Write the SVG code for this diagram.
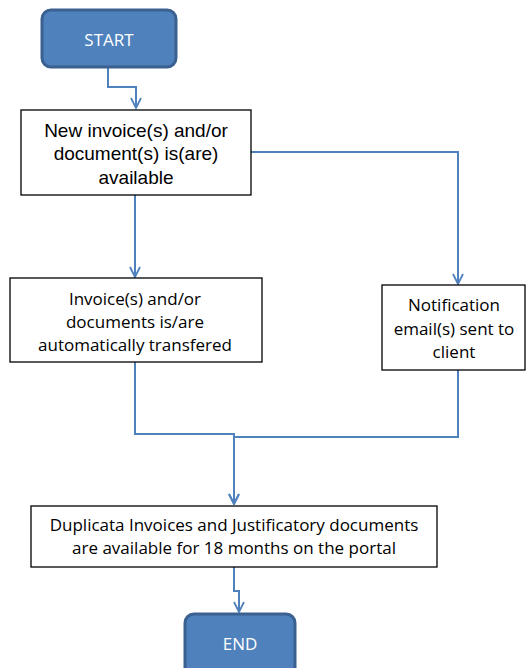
<svg xmlns="http://www.w3.org/2000/svg" width="528" height="668" viewBox="0 0 528 668">
<defs>
<marker id="arr" viewBox="0 0 12 12" refX="11" refY="6" markerWidth="12" markerHeight="12" markerUnits="userSpaceOnUse" orient="auto">
<path d="M1,1 L11,6 L1,11" fill="none" stroke="#4F81BD" stroke-width="1.8"/>
</marker>
</defs>
<style>
.term{fill:#4F81BD;stroke:#3A6190;stroke-width:3}
.box{fill:#fff;stroke:#000;stroke-width:1.3}
.tt{font-family:"Open Sans","Liberation Sans",sans-serif;font-size:17px;fill:#fff;text-anchor:middle}
.t1{font-family:"Liberation Sans",Arial,sans-serif;font-size:19px;fill:#000;text-anchor:middle}
.t2{font-family:"Open Sans","Liberation Sans",sans-serif;font-size:17px;fill:#000;text-anchor:middle}
.c{fill:none;stroke:#4F81BD;stroke-width:2;marker-end:url(#arr)}
</style>
<rect width="528" height="668" fill="#fff"/>
<g id="connectors">
<path class="c" d="M108,67 V87 H136 V108"/>
<path class="c" d="M135,195 V277"/>
<path class="c" d="M251,152 H458 V284"/>
<path class="c" d="M135,362 V434 H234 V504"/>
<path class="c" d="M458,370 V437 H234 V504"/>
<path class="c" d="M234,567 V591 H239 V612"/>
</g>
<g id="start">
<rect class="term" x="42" y="10" width="134" height="57" rx="9"/>
<text class="tt" x="109" y="46">START</text>
</g>
<g id="new-invoice">
<rect class="box" x="21" y="110" width="230" height="85"/>
<text class="t1" x="136" y="137">New invoice(s) and/or</text>
<text class="t1" x="136" y="160">document(s) is(are)</text>
<text class="t1" x="136" y="184">available</text>
</g>
<g id="transfer">
<rect class="box" x="10" y="278" width="252" height="84"/>
<text class="t2" x="135" y="305">Invoice(s) and/or</text>
<text class="t2" x="135" y="328">documents is/are</text>
<text class="t2" x="135" y="351">automatically transfered</text>
</g>
<g id="notification">
<rect class="box" x="382" y="285" width="143" height="85"/>
<text class="t2" x="454" y="311">Notification</text>
<text class="t2" x="454" y="335">email(s) sent to</text>
<text class="t2" x="454" y="358">client</text>
</g>
<g id="duplicata">
<rect class="box" x="31" y="506" width="406" height="61"/>
<text class="t2" x="234" y="531">Duplicata Invoices and Justificatory documents</text>
<text class="t2" x="234" y="554">are available for 18 months on the portal</text>
</g>
<g id="end">
<rect class="term" x="185" y="614" width="110" height="64" rx="9"/>
<text class="tt" x="240" y="650">END</text>
</g>
</svg>
